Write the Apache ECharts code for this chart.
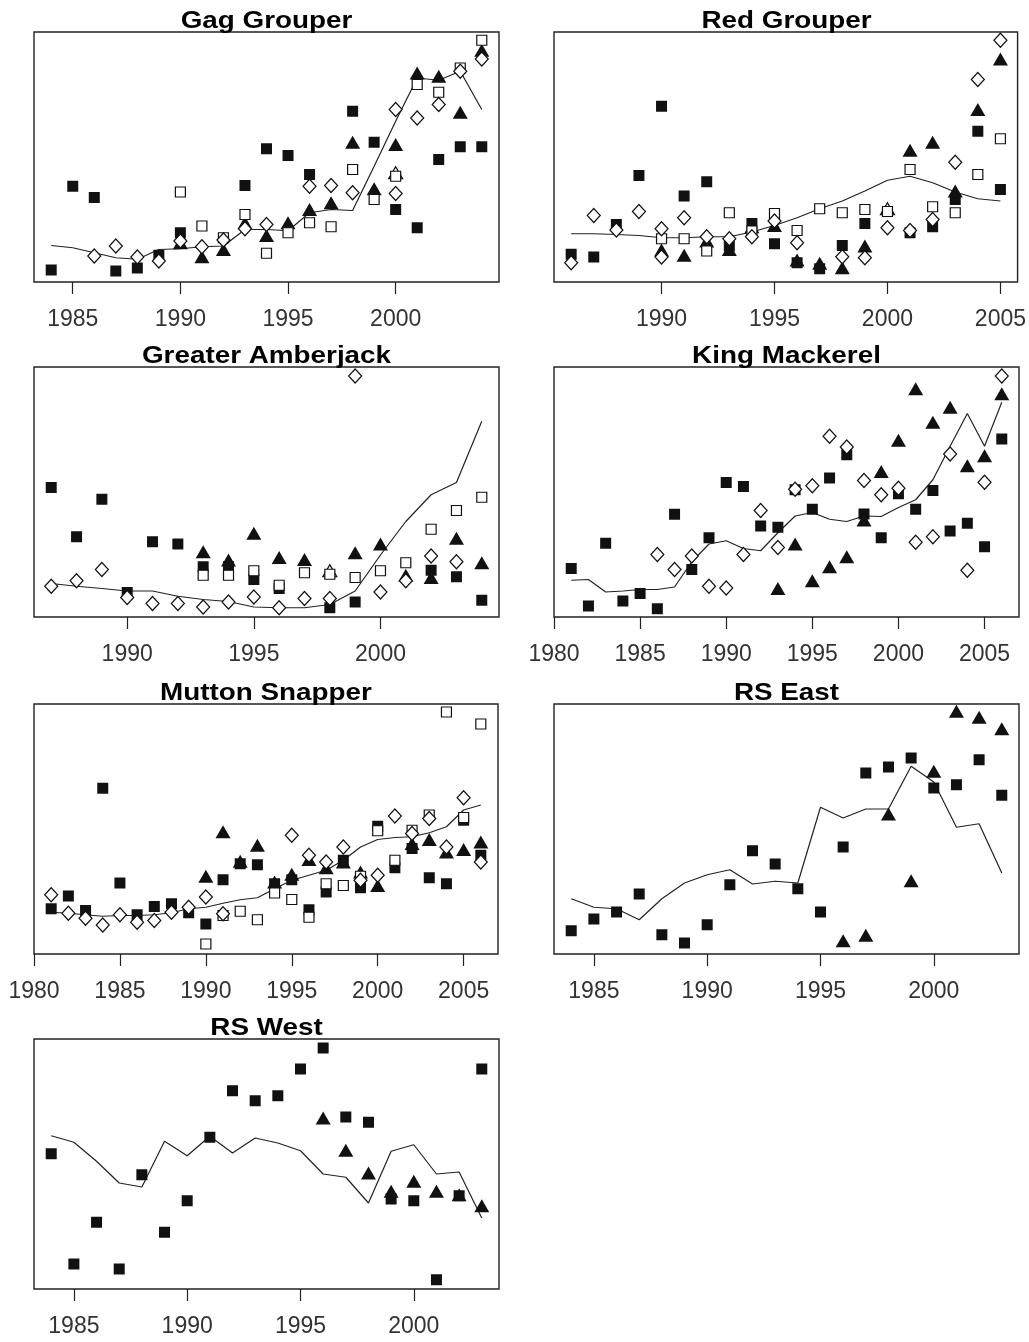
<!DOCTYPE html>
<html>
<head>
<meta charset="utf-8">
<script src="https://cdn.jsdelivr.net/npm/echarts@6/dist/echarts.min.js"></script>
<style>
  html, body { margin: 0; padding: 0; background: #fff; }
  #chart { width: 1029px; height: 1342px; }
</style>
</head>
<body>
<div id="chart"></div>
<script>
// Relative abundance indices (scaled 0-100 within each panel) by year.
// Each point list holds [year, index] pairs; trend lines are year-aligned.

// ---- Gag Grouper ----
const gagYears = [1984,1985,1986,1987,1988,1989,1990,1991,1992,1993,1994,1995,1996,1997,1998,1999,2000,2001,2002,2003,2004];
const gagTrend = [14.6,13.7,11.7,9.7,9.1,13.0,13.3,14.1,14.4,21.0,21.0,20.5,27.7,29.0,28.6,46.3,64.3,81.6,80.7,84.3,69.0];
const gagSolidSq = [[1984,4.8],[1985,38.3],[1986,33.8],[1987,4.4],[1988,5.6],[1989,10.7],[1990,19.7],[1993,38.6],[1994,53.3],[1995,50.6],[1996,43.0],[1998,68.3],[1999,55.9],[2000,29.0],[2001,21.7],[2002,49.0],[2003,54.1],[2004,54.1]];
const gagOpenSq = [[1990,36.0],[1991,22.4],[1992,17.7],[1993,27.0],[1994,11.5],[1995,19.7],[1996,23.7],[1997,22.1],[1998,45.0],[1999,33.0],[2000,42.3],[2001,79.0],[2002,75.9],[2003,85.6],[2004,96.7]];
const gagDiamond = [[1986,10.4],[1987,14.4],[1988,10.0],[1989,8.4],[1990,16.4],[1991,14.1],[1992,16.8],[1993,21.3],[1994,23.0],[1996,38.3],[1997,38.6],[1998,35.7],[2000,69.0],[2000,35.4],[2001,65.6],[2002,71.0],[2003,84.3],[2004,89.2]];
const gagSolidTri = [[1990,15.7],[1991,10.1],[1992,13.0],[1993,23.7],[1994,18.6],[1995,23.7],[1996,29.0],[1997,31.7],[1998,55.9],[1999,37.3],[2000,55.0],[2001,83.6],[2002,82.3],[2003,67.9],[2004,92.7]];
const gagOpenTri = [[2000,43.7]];
const gagTicks = [1985,1990,1995,2000];

// ---- Red Grouper ----
const redYears = [1986,1987,1988,1989,1990,1991,1992,1993,1994,1995,1996,1997,1998,1999,2000,2001,2002,2003,2004,2005];
const redTrend = [19.3,19.3,19.0,18.6,17.7,17.7,18.1,18.1,20.0,22.6,25.7,29.3,32.4,36.4,40.7,42.3,39.7,36.0,33.3,32.4];
const redSolidSq = [[1986,11.1],[1987,10.0],[1988,23.0],[1989,42.6],[1990,70.3],[1991,34.4],[1992,40.1],[1993,14.4],[1994,23.4],[1995,15.3],[1996,7.7],[1997,5.3],[1998,14.6],[1999,23.4],[2001,19.7],[2002,22.1],[2003,33.0],[2004,60.3],[2005,37.0]];
const redOpenSq = [[1990,17.3],[1991,17.3],[1992,12.4],[1993,27.7],[1994,20.4],[1995,27.4],[1996,20.6],[1997,29.3],[1998,27.7],[1999,29.0],[2000,28.2],[2001,45.0],[2002,30.1],[2003,27.7],[2004,43.0],[2005,57.3]];
const redDiamond = [[1986,7.7],[1987,26.6],[1988,20.8],[1989,28.2],[1990,21.3],[1990,10.0],[1991,25.7],[1992,18.1],[1993,17.3],[1994,18.1],[1995,24.4],[1996,15.7],[1998,10.1],[1999,9.7],[2000,21.7],[2001,20.6],[2002,25.0],[2003,47.9],[2004,81.0],[2005,96.7]];
const redSolidTri = [[1990,12.8],[1991,10.7],[1992,16.4],[1993,13.0],[1994,22.1],[1995,22.6],[1996,8.8],[1997,7.5],[1998,5.7],[1999,14.4],[2001,52.7],[2002,55.9],[2003,36.4],[2004,69.0],[2005,89.2]];
const redOpenTri = [[2000,29.3]];
const redTicks = [1990,1995,2000,2005];

// ---- Greater Amberjack ----
const ajYears = [1987,1988,1989,1990,1991,1992,1993,1994,1995,1996,1997,1998,1999,2000,2001,2002,2003,2004];
const ajTrend = [13.4,12.3,11.4,10.4,10.4,8.3,7.0,6.2,4.0,3.7,3.7,5.0,10.4,24.8,38.2,48.9,53.8,78.3];
const ajSolidSq = [[1987,51.8],[1988,32.1],[1989,47.1],[1990,9.8],[1991,30.1],[1992,29.2],[1993,20.1],[1994,20.1],[1995,15.0],[1996,11.4],[1998,3.7],[1999,6.0],[2002,18.7],[2003,16.1],[2004,6.7]];
const ajOpenSq = [[1993,16.7],[1994,16.7],[1995,18.5],[1996,12.7],[1997,17.7],[1998,17.1],[1999,15.8],[2000,18.5],[2001,21.7],[2002,35.1],[2003,42.6],[2004,47.9]];
const ajDiamond = [[1987,12.3],[1988,14.5],[1989,19.0],[1990,7.8],[1991,5.4],[1992,5.4],[1993,4.0],[1994,6.0],[1995,8.0],[1996,3.7],[1997,7.4],[1998,7.4],[1999,96.4],[2000,10.0],[2001,14.5],[2002,24.4],[2003,22.1]];
const ajSolidTri = [[1993,26.1],[1994,22.8],[1995,33.5],[1996,23.8],[1997,23.0],[1999,25.7],[2000,29.2],[2001,16.7],[2002,15.8],[2003,31.5],[2004,21.7]];
const ajOpenTri = [[1998,18.5]];
const ajTicks = [1990,1995,2000];

// ---- King Mackerel ----
const kmYears = [1981,1982,1983,1984,1985,1986,1987,1988,1989,1990,1991,1992,1993,1994,1995,1996,1997,1998,1999,2000,2001,2002,2003,2004,2005,2006];
const kmTrend = [14.7,15.0,10.0,10.4,11.0,11.0,12.0,22.1,29.2,30.5,27.4,26.5,33.7,40.4,41.8,39.1,38.2,40.4,40.2,43.8,46.9,54.9,68.3,81.4,68.3,85.9];
const kmSolidSq = [[1981,19.4],[1982,4.4],[1983,29.5],[1984,6.4],[1985,9.4],[1986,3.3],[1987,41.1],[1988,19.0],[1989,31.7],[1990,53.8],[1991,52.2],[1992,36.4],[1993,35.9],[1994,50.9],[1995,43.1],[1996,55.6],[1997,64.9],[1998,41.2],[1999,31.7],[2000,49.3],[2001,43.1],[2002,50.6],[2003,34.4],[2004,37.5],[2005,28.1],[2006,71.2]];
const kmDiamond = [[1986,25.0],[1987,19.0],[1988,24.4],[1989,12.3],[1990,11.6],[1991,25.0],[1992,42.6],[1993,27.8],[1994,51.1],[1995,52.5],[1996,72.3],[1997,68.0],[1998,54.6],[1999,48.9],[2000,51.5],[2001,29.9],[2002,32.1],[2003,65.2],[2004,18.7],[2005,53.9],[2006,96.4]];
const kmSolidTri = [[1993,11.4],[1994,29.2],[1995,14.5],[1996,20.1],[1997,24.1],[1998,38.8],[1999,58.2],[2000,70.7],[2001,91.3],[2002,77.9],[2003,83.9],[2004,60.5],[2005,64.5],[2006,89.3]];
const kmTicks = [1980,1985,1990,1995,2000,2005];

// ---- Mutton Snapper ----
const msYears = [1981,1982,1983,1984,1985,1986,1987,1988,1989,1990,1991,1992,1993,1994,1995,1996,1997,1998,1999,2000,2001,2002,2003,2004,2005,2006];
const msTrend = [16.7,16.3,15.7,15.1,15.4,15.4,15.7,16.5,18.1,18.7,20.3,21.7,22.5,26.1,29.5,31.5,33.5,37.5,42.8,45.8,46.6,46.9,48.5,50.9,57.6,59.6];
const msSolidSq = [[1981,18.1],[1982,23.2],[1983,17.4],[1984,66.3],[1985,28.4],[1986,15.7],[1987,19.0],[1988,20.1],[1989,16.5],[1990,12.0],[1991,29.7],[1992,36.1],[1993,35.7],[1994,28.1],[1995,29.7],[1996,17.7],[1997,24.8],[1998,37.5],[1999,26.5],[2000,51.1],[2001,34.5],[2002,42.2],[2003,30.5],[2004,28.1],[2005,53.5],[2006,39.5]];
const msOpenSq = [[1990,4.0],[1991,15.4],[1992,17.1],[1993,13.7],[1994,24.4],[1995,21.8],[1996,14.7],[1997,28.1],[1998,27.4],[1999,31.1],[2000,49.3],[2001,37.5],[2002,49.5],[2003,55.6],[2004,96.8],[2005,54.6],[2006,92.0]];
const msDiamond = [[1981,23.7],[1982,16.3],[1983,14.3],[1984,11.6],[1985,15.7],[1986,12.7],[1987,13.4],[1988,16.7],[1989,18.7],[1990,22.8],[1991,16.1],[1995,47.5],[1996,39.5],[1997,36.8],[1998,42.8],[1999,29.5],[2000,31.5],[2001,55.2],[2002,48.2],[2003,54.2],[2004,42.8],[2005,62.5],[2006,36.8]];
const msSolidTri = [[1990,31.1],[1991,48.9],[1992,37.1],[1993,43.5],[1994,28.8],[1995,31.9],[1996,37.8],[1997,34.5],[1998,36.8],[1999,32.8],[2000,27.4],[2002,44.2],[2003,45.8],[2004,40.8],[2005,41.8],[2006,44.8]];
const msTicks = [1980,1985,1990,1995,2000,2005];

// ---- RS East ----
const eastYears = [1984,1985,1986,1987,1988,1989,1990,1991,1992,1993,1994,1995,1996,1997,1998,1999,2000,2001,2002,2003];
const eastTrend = [22.1,18.7,18.1,13.7,22.1,28.4,31.7,33.7,28.0,29.1,28.4,58.7,54.4,58.0,58.0,75.1,68.8,50.7,52.1,32.4];
const eastSolidSq = [[1984,9.3],[1985,14.0],[1986,16.8],[1987,24.0],[1988,7.7],[1989,4.4],[1990,11.7],[1991,27.7],[1992,41.3],[1993,36.0],[1994,26.1],[1995,16.8],[1996,42.8],[1997,72.4],[1998,74.8],[1999,78.4],[2000,66.4],[2001,67.7],[2002,77.7],[2003,63.5]];
const eastSolidTri = [[1996,5.3],[1997,7.5],[1998,56.0],[1999,29.3],[2000,73.1],[2001,97.1],[2002,94.7],[2003,90.1]];
const eastTicks = [1985,1990,1995,2000];

// ---- RS West ----
const westYears = [1984,1985,1986,1987,1988,1989,1990,1991,1992,1993,1994,1995,1996,1997,1998,1999,2000,2001,2002,2003];
const westTrend = [61.3,58.7,51.1,42.4,40.8,59.1,53.3,61.1,54.4,60.4,58.4,55.3,46.0,44.7,34.4,55.1,57.7,46.0,46.8,28.4];
const westSolidSq = [[1984,54.1],[1985,10.0],[1986,26.7],[1987,8.0],[1988,45.7],[1989,22.7],[1990,35.3],[1991,60.7],[1992,79.3],[1993,75.3],[1994,77.3],[1995,88.0],[1996,96.4],[1997,68.8],[1998,66.7],[1999,36.0],[2000,35.3],[2001,3.7],[2002,37.3],[2003,88.0]];
const westSolidTri = [[1996,68.4],[1997,55.5],[1998,46.4],[1999,39.1],[2000,43.1],[2001,39.1],[2002,37.7],[2003,33.3]];
const westTicks = [1985,1990,1995,2000];

// Panel definitions: data references plus padded year range of each x axis.
const panels = [
  { title: 'Gag Grouper', years: gagYears, trend: gagTrend, solidSq: gagSolidSq, openSq: gagOpenSq, diamond: gagDiamond, solidTri: gagSolidTri, openTri: gagOpenTri, ticks: gagTicks },
  { title: 'Red Grouper', years: redYears, trend: redTrend, solidSq: redSolidSq, openSq: redOpenSq, diamond: redDiamond, solidTri: redSolidTri, openTri: redOpenTri, ticks: redTicks },
  { title: 'Greater Amberjack', years: ajYears, trend: ajTrend, solidSq: ajSolidSq, openSq: ajOpenSq, diamond: ajDiamond, solidTri: ajSolidTri, openTri: ajOpenTri, ticks: ajTicks },
  { title: 'King Mackerel', years: kmYears, trend: kmTrend, solidSq: kmSolidSq, openSq: [], diamond: kmDiamond, solidTri: kmSolidTri, openTri: [], ticks: kmTicks },
  { title: 'Mutton Snapper', years: msYears, trend: msTrend, solidSq: msSolidSq, openSq: msOpenSq, diamond: msDiamond, solidTri: msSolidTri, openTri: [], ticks: msTicks },
  { title: 'RS East', years: eastYears, trend: eastTrend, solidSq: eastSolidSq, openSq: [], diamond: [], solidTri: eastSolidTri, openTri: [], ticks: eastTicks },
  { title: 'RS West', years: westYears, trend: westTrend, solidSq: westSolidSq, openSq: [], diamond: [], solidTri: westSolidTri, openTri: [], ticks: westTicks }
];

// Layout of the plot boxes (pixels), two columns.
const boxes = [
  { left: 34,  top: 32,   width: 465, height: 250 },
  { left: 554, top: 32,   width: 465, height: 250 },
  { left: 34,  top: 367,  width: 465, height: 250 },
  { left: 554, top: 367,  width: 465, height: 250 },
  { left: 34,  top: 704,  width: 464, height: 250 },
  { left: 554, top: 704,  width: 465, height: 250 },
  { left: 34,  top: 1039, width: 465, height: 250 }
];

const INK = '#111';
const grids = [], xAxes = [], yAxes = [], series = [], titles = [];

panels.forEach((p, i) => {
  const b = boxes[i];
  // 4% padding on each side of the year span
  const first = p.years[0], last = p.years[p.years.length - 1];
  const pad = (last - first) * 0.04;

  grids.push({
    left: b.left, top: b.top, width: b.width, height: b.height,
    show: true, borderColor: '#222', borderWidth: 1.4, backgroundColor: '#fff', containLabel: false
  });

  xAxes.push({
    type: 'value', gridIndex: i, min: first - pad, max: last + pad,
    axisLine: { show: false },
    splitLine: { show: false },
    axisTick: { show: true, inside: false, length: 12, customValues: p.ticks, lineStyle: { color: '#222', width: 1.2 } },
    axisLabel: { show: true, customValues: p.ticks, margin: 26, color: '#333',
      fontFamily: '"Liberation Sans", Arial, sans-serif', fontSize: 23,
      formatter: v => String(v) }
  });

  yAxes.push({ type: 'value', gridIndex: i, min: 0, max: 100, show: false, splitLine: { show: false } });

  series.push({
    type: 'line', xAxisIndex: i, yAxisIndex: i, z: 2,
    data: p.years.map((y, k) => [y, p.trend[k]]),
    showSymbol: false, symbol: 'none', silent: true,
    lineStyle: { color: '#222', width: 1.2 }
  });

  const marks = [
    { data: p.solidSq,  symbol: 'rect',     size: 11,       fill: INK,    stroke: 0 },
    { data: p.solidTri, symbol: 'triangle', size: [15, 13], fill: INK,    stroke: 0 },
    { data: p.openTri,  symbol: 'triangle', size: [14, 12], fill: '#fff', stroke: 1.2 },
    { data: p.openSq,   symbol: 'rect',     size: 10,       fill: '#fff', stroke: 1.2 },
    { data: p.diamond,  symbol: 'diamond',  size: [13, 14], fill: '#fff', stroke: 1.2 }
  ];
  marks.forEach((m, k) => {
    if (!m.data.length) return;
    series.push({
      type: 'scatter', xAxisIndex: i, yAxisIndex: i, z: 3 + k, silent: true,
      data: m.data, symbol: m.symbol, symbolSize: m.size,
      itemStyle: { color: m.fill, borderColor: INK, borderWidth: m.stroke, opacity: 1 }
    });
  });

  titles.push({
    type: 'text', x: b.left + b.width / 2, y: b.top - 11, scaleX: 1.16, silent: true,
    style: {
      text: p.title, fill: '#000',
      font: 'bold 24px "Liberation Sans", Arial, sans-serif',
      textAlign: 'center', textVerticalAlign: 'middle',
      align: 'center', verticalAlign: 'middle'
    }
  });
});

const chart = echarts.init(document.getElementById('chart'), null, { renderer: 'canvas' });
chart.setOption({
  backgroundColor: '#fff',
  animation: false,
  grid: grids,
  xAxis: xAxes,
  yAxis: yAxes,
  series: series,
  graphic: { elements: titles }
});
</script>
</body>
</html>
